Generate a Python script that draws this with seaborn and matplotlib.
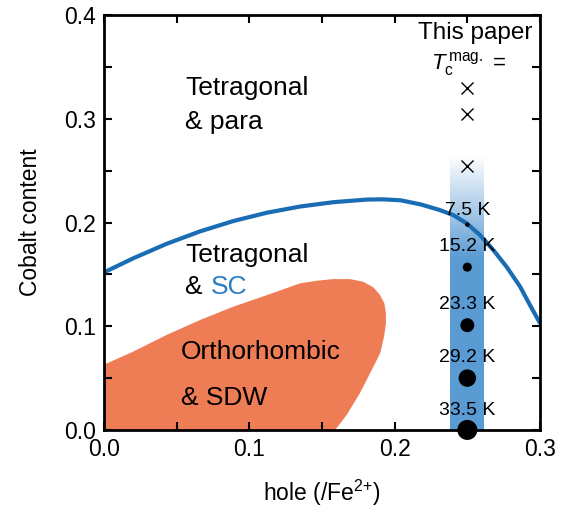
#!/usr/bin/env python3
#
# Phase diagram: cobalt content vs hole doping
#
import numpy as np
import matplotlib
matplotlib.use('Agg')
import matplotlib.pyplot as plt
import seaborn as sns
from matplotlib.ticker import MultipleLocator

sns.set_style('ticks')
plt.rcParams['font.family'] = ['Liberation Sans', 'DejaVu Sans']
plt.rcParams['mathtext.fontset'] = 'custom'
plt.rcParams['mathtext.rm'] = 'Liberation Sans'
plt.rcParams['mathtext.it'] = 'Liberation Sans:italic'
for k in ['text.color', 'axes.edgecolor', 'axes.labelcolor',
          'xtick.color', 'ytick.color']:
    plt.rcParams[k] = 'black'

# SC dome boundary
dome_hole = [0.0, 0.02, 0.043, 0.066, 0.089, 0.112, 0.135, 0.158, 0.181,
             0.192, 0.204, 0.218, 0.2312, 0.2404, 0.2496, 0.2587, 0.2679,
             0.277, 0.2862, 0.2931, 0.3]
dome_co = [0.152, 0.1655, 0.1795, 0.1915, 0.2015, 0.2095, 0.2155, 0.2197,
           0.2222, 0.2224, 0.2215, 0.2175, 0.212, 0.2072, 0.1992, 0.188,
           0.1735, 0.1574, 0.1385, 0.1205, 0.103]

# Orthorhombic & SDW region outline
sdw_hole = [0.0, 0.0, 0.02, 0.043, 0.066, 0.089, 0.112, 0.1349, 0.1464,
            0.1578, 0.1693, 0.1784, 0.1853, 0.1899, 0.1929, 0.194, 0.194,
            0.1927, 0.19, 0.1842, 0.176, 0.167, 0.159]
sdw_co = [0.0, 0.063, 0.0755, 0.0916, 0.106, 0.1189, 0.130, 0.1414, 0.1439,
          0.1455, 0.1455, 0.1429, 0.1375, 0.1301, 0.1221, 0.1124, 0.1028,
          0.0899, 0.0739, 0.0578, 0.0353, 0.0145, 0.0]

# This paper
paper_hole = 0.25
tc_co = [0.198, 0.157, 0.101, 0.050, 0.0]
tc_vals = [7.5, 15.2, 23.3, 29.2, 33.5]
tc_labels = ['7.5 K', '15.2 K', '23.3 K', '29.2 K', '33.5 K']
para_co = [0.255, 0.305, 0.33]

# Colours
orange = '#EE7D55'
blue_line = '#1A6DB5'
blue_band = np.array([0x5A, 0x9B, 0xD3]) / 255
blue_text = '#2A7DC4'

fig = plt.figure(figsize=(5.72, 5.07), dpi=100)
ax = fig.add_axes([0.182, 0.152, 0.762, 0.818])

# Shaded band behind this paper's samples
band_x0, band_x1 = 0.238, 0.261
band_top, band_full = 0.265, 0.165
yy = np.linspace(0, band_top, 300)
alpha = np.clip((band_top - yy) / (band_top - band_full), 0, 1)
img = np.zeros((len(yy), 1, 4))
img[:, 0, :3] = blue_band
img[:, 0, 3] = alpha
ax.imshow(img, extent=[band_x0, band_x1, 0, band_top], origin='lower',
          aspect='auto', interpolation='bilinear', zorder=1)

# SDW region
ax.fill(sdw_hole, sdw_co, color=orange, lw=0, zorder=0.5)

# SC dome line
sns.lineplot(x=dome_hole, y=dome_co, ax=ax, color=blue_line, lw=3,
             sort=False, zorder=2)

# Tc points
sizes = {t: (0.43 * t) ** 2 for t in tc_vals}
sns.scatterplot(x=[paper_hole] * len(tc_co), y=tc_co, size=tc_vals,
                sizes=sizes, ax=ax, color='black', edgecolor='none',
                legend=False, clip_on=False, zorder=4)
offsets = [10, 15, 15, 15, 14]
for y, lab, off in zip(tc_co, tc_labels, offsets):
    ax.annotate(lab, (paper_hole, y), xytext=(0, off),
                textcoords='offset points', ha='center', va='center',
                fontsize=14, zorder=5)

# Non-magnetic samples
ax.plot([paper_hole] * len(para_co), para_co, 'x', color='black',
        ms=9, mew=1.0, zorder=4)

ax.text(0.2553, 0.383, 'This paper', ha='center', va='center', fontsize=17.5)
ax.text(0.251, 0.352, r'$T_\mathrm{c}^{\,\mathrm{mag.}}$ =', ha='center',
        va='center', fontsize=16)

# Region labels
ax.text(0.0557, 0.330, 'Tetragonal', ha='left', va='center', fontsize=19)
ax.text(0.0557, 0.297, '& para', ha='left', va='center', fontsize=19)
ax.text(0.0557, 0.169, 'Tetragonal', ha='left', va='center', fontsize=19)
ax.text(0.0557, 0.138, '& ', ha='left', va='center', fontsize=19)
ax.text(0.0733, 0.138, 'SC', ha='left', va='center', fontsize=19,
        color=blue_text)
ax.text(0.053, 0.075, 'Orthorhombic', ha='left', va='center', fontsize=19)
ax.text(0.053, 0.031, '& SDW', ha='left', va='center', fontsize=19)

# Axes
ax.set_xlim(0, 0.3)
ax.set_ylim(0, 0.4)
ax.xaxis.set_major_locator(MultipleLocator(0.1))
ax.xaxis.set_minor_locator(MultipleLocator(0.05))
ax.yaxis.set_major_locator(MultipleLocator(0.1))
ax.yaxis.set_minor_locator(MultipleLocator(0.05))
ax.tick_params(which='both', direction='in', top=True, right=True,
               width=1.5, labelsize=16.5, pad=6)
ax.tick_params(which='major', length=6)
ax.tick_params(which='minor', length=6)
for s in ax.spines.values():
    s.set_linewidth(2)
ax.set_xlabel('hole (/Fe$^{2{+}}$)', fontsize=16.5, labelpad=12)
ax.set_ylabel('Cobalt content', fontsize=16.5, labelpad=16)

fig.savefig('out.png', dpi=100)
